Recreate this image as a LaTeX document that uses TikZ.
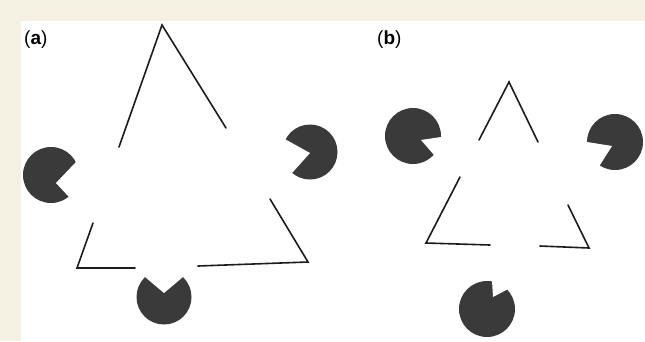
\documentclass[tikz,border=0pt]{standalone}
\usepackage{fontspec}
\setmainfont{Liberation Sans}
\usetikzlibrary{calc}
\definecolor{framebg}{RGB}{245,241,226}
\definecolor{pacgray}{RGB}{58,58,58}
\definecolor{ink}{RGB}{28,28,28}
\tikzset{
  contour/.style={draw=ink, line width=1.6pt, line cap=round, line join=miter},
  panellabel/.style={font=\fontsize{19}{22}\selectfont, inner sep=0pt, anchor=west}
}
% pacman inducer: centre, radius, mouth vertex, upper lip tip, lower lip tip
\newcommand\inducer[5]{%
  \fill[pacgray] (#1) circle (#2pt);
  \begin{scope}
    \clip (#1) circle (#2pt+1pt);
    \fill[white] (#3) -- ($(#3)!3!(#4)$) -- ($(#3)!3!(#5)$) -- cycle;
  \end{scope}}
\begin{document}
\begin{tikzpicture}[x=1pt,y=-1pt]
  % page frame
  \fill[framebg] (0,0) rectangle (645,341);
  \fill[white] (21,21) rectangle (645,341);
  \useasboundingbox (0,0) rectangle (645,341);

  % ---------- panel (a) ----------
  \node[panellabel] (la) at (24,40) {(\textbf{a})};
  \draw[contour] (119,147) -- (162,25) -- (226,128);
  \draw[contour] (93,223) -- (77,268) -- (135,268);
  \draw[contour] (270,199) -- (308,262) -- (198,266);
  \inducer{51,175}{28}{56,183}{75,163}{69,197}
  \inducer{310,152}{27.5}{310,153}{283,138}{292,173}
  \inducer{164,297}{27.5}{164,293}{145,277}{183,277}

  % ---------- panel (b) ----------
  \node[panellabel] (lb) at (377,40) {(\textbf{b})};
  \draw[contour] (479,140) -- (509,82) -- (538,142);
  \draw[contour] (460,177) -- (426,243) -- (490,245);
  \draw[contour] (568,205) -- (589,248) -- (540,246);
  \inducer{413,136}{28}{421,140}{441,137}{434,155}
  \inducer{615,142}{28}{612,146}{587,142}{600,165}
  \inducer{487,309}{28}{493,297}{492,281}{512,287}
\end{tikzpicture}
\end{document}
